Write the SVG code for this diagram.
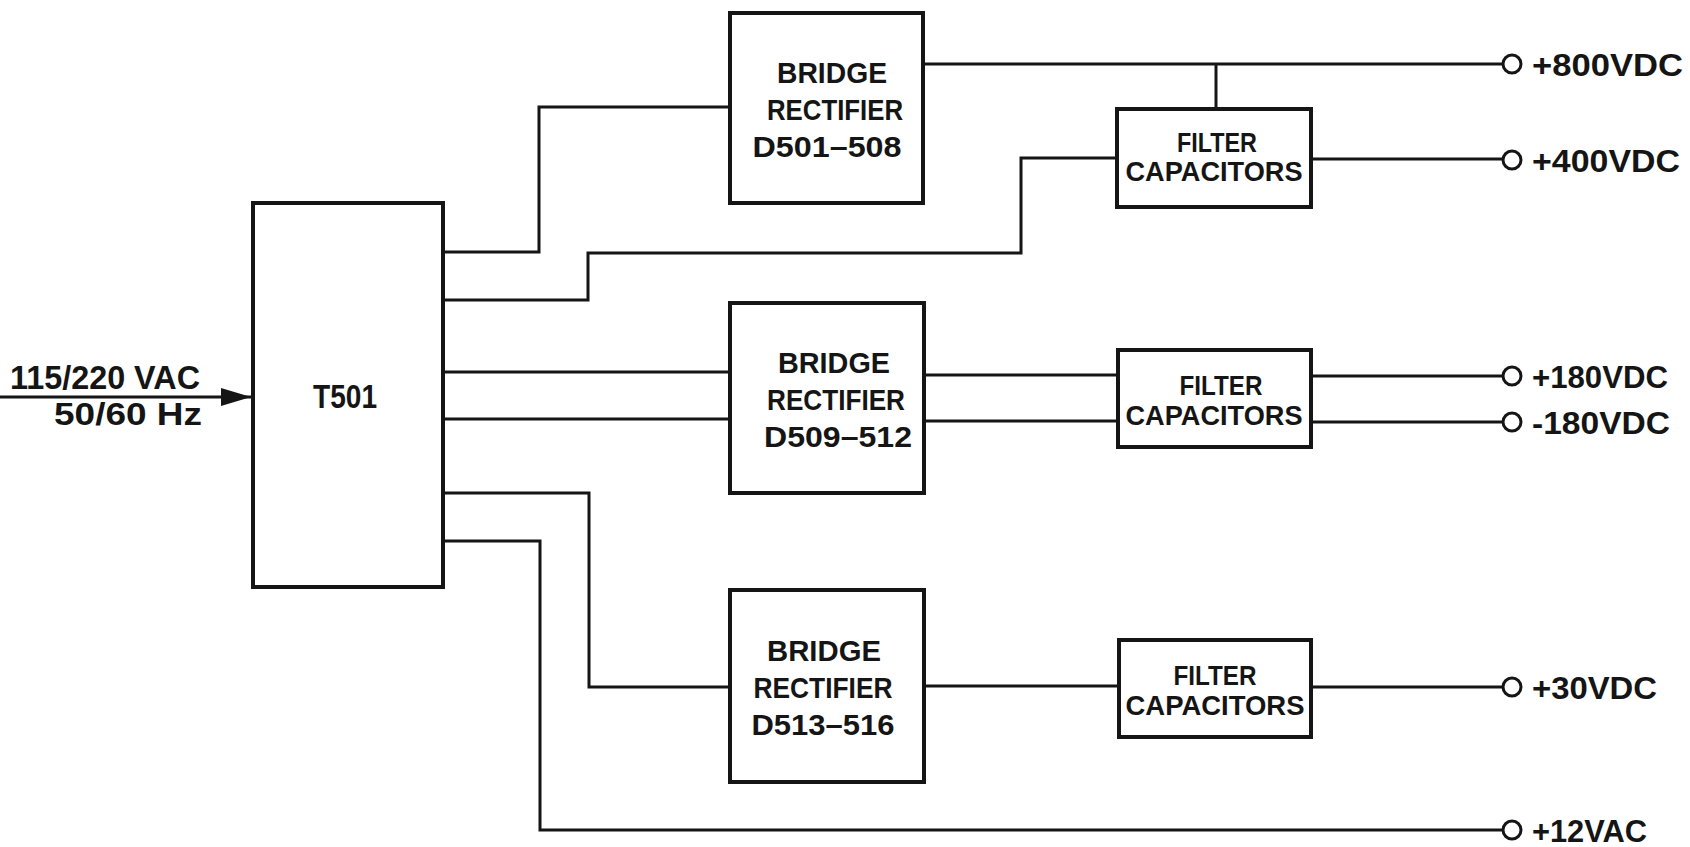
<svg xmlns="http://www.w3.org/2000/svg" width="1690" height="847" viewBox="0 0 1690 847">
<style>
.box{fill:#fff;stroke:#151515;stroke-width:4}
.wire{fill:none;stroke:#151515;stroke-width:3}
.term{fill:#fff;stroke:#151515;stroke-width:3}
text{font-family:"Liberation Sans",Arial,sans-serif;font-weight:bold;fill:#151515}
.bt{font-size:30px;text-anchor:middle}
.ft{font-size:28px;text-anchor:middle}
.tl{font-size:32px}
</style>
<defs>
<marker id="arr" markerWidth="30" markerHeight="20" refX="30" refY="10" orient="auto" markerUnits="userSpaceOnUse">
<polygon points="0,1 30,10 0,19" fill="#151515"/>
</marker>
</defs>
<rect width="1690" height="847" fill="#fff"/>
<g id="connectors">
<path class="wire" d="M0,397 H251" marker-end="url(#arr)"/>
<path class="wire" d="M443,252 H539 V107 H730"/>
<path class="wire" d="M443,300 H588 V253 H1021 V158 H1117"/>
<path class="wire" d="M443,372 H730"/>
<path class="wire" d="M443,419 H730"/>
<path class="wire" d="M443,493 H589 V687 H730"/>
<path class="wire" d="M443,541 H540 V830 H1503"/>
<path class="wire" d="M923,64 H1503"/>
<path class="wire" d="M1216,64 V109"/>
<path class="wire" d="M1311,159 H1503"/>
<path class="wire" d="M924,375 H1118"/>
<path class="wire" d="M924,421 H1118"/>
<path class="wire" d="M1311,376 H1503"/>
<path class="wire" d="M1311,422 H1503"/>
<path class="wire" d="M924,686 H1119"/>
<path class="wire" d="M1311,687 H1503"/>
</g>
<g id="input-label">
<text x="10" y="389" font-size="33" textLength="190" lengthAdjust="spacingAndGlyphs">115/220 VAC</text>
<text x="54" y="425" font-size="31" textLength="148" lengthAdjust="spacingAndGlyphs">50/60 Hz</text>
</g>
<g id="T501">
<rect class="box" x="253" y="203" width="190" height="384"/>
<text x="313" y="408" font-size="33" textLength="64" lengthAdjust="spacingAndGlyphs">T501</text>
</g>
<g id="BR1">
<rect class="box" x="730" y="13" width="193" height="190"/>
<text class="bt" x="832" y="83" textLength="110" lengthAdjust="spacingAndGlyphs">BRIDGE</text>
<text class="bt" x="835" y="120" textLength="136" lengthAdjust="spacingAndGlyphs">RECTIFIER</text>
<text class="bt" x="827" y="157" textLength="149" lengthAdjust="spacingAndGlyphs">D501–508</text>
</g>
<g id="BR2">
<rect class="box" x="730" y="303" width="194" height="190"/>
<text class="bt" x="834" y="373" textLength="112" lengthAdjust="spacingAndGlyphs">BRIDGE</text>
<text class="bt" x="836" y="410" textLength="138" lengthAdjust="spacingAndGlyphs">RECTIFIER</text>
<text class="bt" x="838" y="447" textLength="148" lengthAdjust="spacingAndGlyphs">D509–512</text>
</g>
<g id="BR3">
<rect class="box" x="730" y="590" width="194" height="192"/>
<text class="bt" x="824" y="661" textLength="114" lengthAdjust="spacingAndGlyphs">BRIDGE</text>
<text class="bt" x="823" y="698" textLength="139" lengthAdjust="spacingAndGlyphs">RECTIFIER</text>
<text class="bt" x="823" y="735" textLength="143" lengthAdjust="spacingAndGlyphs">D513–516</text>
</g>
<g id="FC1">
<rect class="box" x="1117" y="109" width="194" height="98"/>
<text class="ft" x="1217" y="152" textLength="80" lengthAdjust="spacingAndGlyphs">FILTER</text>
<text class="ft" x="1214" y="181" textLength="177" lengthAdjust="spacingAndGlyphs">CAPACITORS</text>
</g>
<g id="FC2">
<rect class="box" x="1118" y="350" width="193" height="97"/>
<text class="ft" x="1221" y="395" textLength="83" lengthAdjust="spacingAndGlyphs">FILTER</text>
<text class="ft" x="1214" y="425" textLength="177" lengthAdjust="spacingAndGlyphs">CAPACITORS</text>
</g>
<g id="FC3">
<rect class="box" x="1119" y="640" width="192" height="97"/>
<text class="ft" x="1215" y="685" textLength="83" lengthAdjust="spacingAndGlyphs">FILTER</text>
<text class="ft" x="1215" y="715" textLength="179" lengthAdjust="spacingAndGlyphs">CAPACITORS</text>
</g>
<g id="out-800">
<circle class="term" cx="1512" cy="64" r="9"/>
<text class="tl" x="1532" y="76" textLength="151" lengthAdjust="spacingAndGlyphs">+800VDC</text>
</g>
<g id="out-400">
<circle class="term" cx="1512" cy="160" r="9"/>
<text class="tl" x="1532" y="172" textLength="148" lengthAdjust="spacingAndGlyphs">+400VDC</text>
</g>
<g id="out-p180">
<circle class="term" cx="1512" cy="376" r="9"/>
<text class="tl" x="1532" y="388" textLength="136" lengthAdjust="spacingAndGlyphs">+180VDC</text>
</g>
<g id="out-m180">
<circle class="term" cx="1512" cy="422" r="9"/>
<text class="tl" x="1532" y="434" textLength="138" lengthAdjust="spacingAndGlyphs">-180VDC</text>
</g>
<g id="out-30">
<circle class="term" cx="1512" cy="687" r="9"/>
<text class="tl" x="1532" y="699" textLength="125" lengthAdjust="spacingAndGlyphs">+30VDC</text>
</g>
<g id="out-12">
<circle class="term" cx="1512" cy="830" r="9"/>
<text class="tl" x="1532" y="842" textLength="115" lengthAdjust="spacingAndGlyphs">+12VAC</text>
</g>
</svg>
